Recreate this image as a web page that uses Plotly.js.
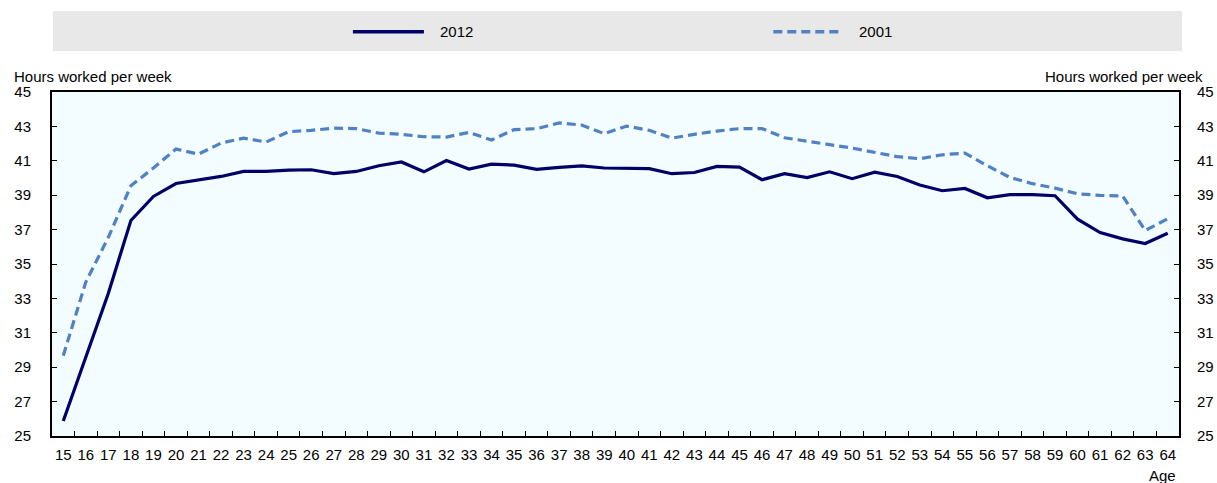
<!DOCTYPE html>
<html>
<head>
<meta charset="utf-8">
<script src="https://cdn.plot.ly/plotly-3.0.1.min.js"></script>
<style>
  html, body { margin: 0; padding: 0; background: #ffffff; }
  #chart { width: 1217px; height: 483px; }
</style>
</head>
<body>
<div id="chart"></div>
<script>
const ages = ["15","16","17","18","19","20","21","22","23","24","25","26","27","28","29","30","31","32","33","34","35","36","37","38","39","40","41","42","43","44","45","46","47","48","49","50","51","52","53","54","55","56","57","58","59","60","61","62","63","64"];

const series2012Name = "2012";
const series2012 = [25.87, 29.6, 33.3, 37.53, 38.93, 39.68, 39.9, 40.09, 40.38, 40.38,
                    40.46, 40.48, 40.25, 40.38, 40.71, 40.93, 40.36, 41.02, 40.52, 40.81,
                    40.75, 40.5, 40.62, 40.71, 40.58, 40.58, 40.54, 40.25, 40.32, 40.67,
                    40.63, 39.9, 40.25, 40.02, 40.36, 39.96, 40.34, 40.09, 39.59, 39.26,
                    39.39, 38.85, 39.03, 39.03, 38.97, 37.61, 36.83, 36.46, 36.19, 36.79];

const series2001Name = "2001";
const series2001 = [29.67, 33.95, 36.55, 39.55, 40.58, 41.68, 41.39, 42.03, 42.32, 42.09,
                    42.69, 42.77, 42.9, 42.87, 42.61, 42.54, 42.4, 42.38, 42.65, 42.21,
                    42.81, 42.87, 43.2, 43.08, 42.58, 43.02, 42.77, 42.32, 42.54, 42.73,
                    42.87, 42.87, 42.34, 42.12, 41.94, 41.74, 41.51, 41.24, 41.12, 41.35,
                    41.45, 40.71, 40.03, 39.67, 39.41, 39.08, 38.99, 38.95, 36.95, 37.63];

const yTicks = [25, 27, 29, 31, 33, 35, 37, 39, 41, 43, 45];
const yTitle = "Hours worked per week";
const xTitle = "Age";

const FONT = "'Liberation Sans Narrow', 'Arial Narrow', 'Liberation Sans', Arial, sans-serif";
const FS = 15;
const C2012 = "#000066";
const C2001 = "#4f81c4";

const traces = [
  {
    x: ages, y: series2012, name: series2012Name, type: "scatter", mode: "lines",
    line: { color: C2012, width: 3.2 }, xaxis: "x", yaxis: "y", showlegend: false
  },
  {
    x: ages, y: series2001, name: series2001Name, type: "scatter", mode: "lines",
    line: { color: C2001, width: 3.2, dash: "9px,5px" }, xaxis: "x", yaxis: "y2", showlegend: false
  }
];

const yCommon = {
  range: [25, 45],
  tickvals: yTicks,
  ticktext: yTicks.map(String),
  ticks: "inside",
  ticklen: 5,
  tickwidth: 1,
  tickcolor: "#000",
  showgrid: false,
  zeroline: false,
  showline: true,
  linecolor: "#000",
  linewidth: 2,
  fixedrange: true,
  tickfont: { family: FONT, size: FS, color: "#000" }
};

const layout = {
  width: 1217,
  height: 483,
  margin: { l: 52, r: 38, t: 92, b: 47 },
  paper_bgcolor: "#ffffff",
  plot_bgcolor: "#f3fdff",
  font: { family: FONT, size: FS, color: "#000" },
  showlegend: false,
  xaxis: {
    type: "category",
    range: [-0.5, ages.length - 0.5],
    tickson: "boundaries",
    ticks: "inside",
    ticklen: 5,
    tickwidth: 1,
    tickcolor: "#000",
    showgrid: false,
    zeroline: false,
    showline: true,
    mirror: true,
    linecolor: "#000",
    linewidth: 2,
    tickangle: 0,
    tickfont: { family: FONT, size: FS, color: "#000" },
    ticklabelstandoff: 4,
    fixedrange: true
  },
  yaxis: Object.assign({}, yCommon, { side: "left", ticklabelstandoff: 16 }),
  yaxis2: Object.assign({}, yCommon, { side: "right", overlaying: "y", ticklabelstandoff: 13 }),
  shapes: [
    { type: "rect", xref: "paper", yref: "paper", x0: 0.0009, x1: 1.0027, y0: 1.119, y1: 1.2355,
      fillcolor: "#e8e8e8", line: { width: 0 }, layer: "below" },
    { type: "line", xref: "paper", yref: "paper", x0: 0.267, x1: 0.330, y0: 1.1755, y1: 1.1755,
      line: { color: C2012, width: 3.5 } },
    { type: "line", xref: "paper", yref: "paper", x0: 0.640, x1: 0.702, y0: 1.1755, y1: 1.1755,
      line: { color: C2001, width: 3.5, dash: "9px,5px" } }
  ],
  annotations: [
    { text: series2012Name, xref: "paper", yref: "paper", x: 0.3425, y: 1.1755,
      xanchor: "left", yanchor: "middle", showarrow: false, font: { family: FONT, size: FS, color: "#000" } },
    { text: series2001Name, xref: "paper", yref: "paper", x: 0.714, y: 1.1755,
      xanchor: "left", yanchor: "middle", showarrow: false, font: { family: FONT, size: FS, color: "#000" } },
    { text: yTitle, xref: "paper", yref: "paper", x: -0.0355, y: 1.046,
      xanchor: "left", yanchor: "middle", showarrow: false, font: { family: FONT, size: FS, color: "#000" } },
    { text: yTitle, xref: "paper", yref: "paper", x: 1.0231, y: 1.046,
      xanchor: "right", yanchor: "middle", showarrow: false, font: { family: FONT, size: FS, color: "#000" } },
    { text: xTitle, xref: "paper", yref: "paper", x: 0.9995, y: -0.116,
      xanchor: "right", yanchor: "middle", showarrow: false, font: { family: FONT, size: FS, color: "#000" } }
  ]
};

Plotly.newPlot("chart", traces, layout, { staticPlot: true, displayModeBar: false });
</script>
</body>
</html>
